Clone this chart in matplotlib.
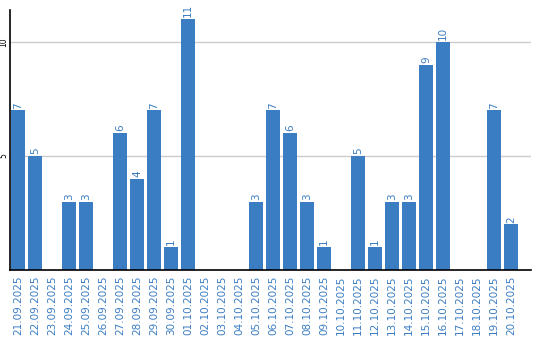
import matplotlib
matplotlib.use('Agg')
import matplotlib.pyplot as plt
import numpy as np

dates = ['21.09.2025', '22.09.2025', '23.09.2025', '24.09.2025', '25.09.2025',
         '26.09.2025', '27.09.2025', '28.09.2025', '29.09.2025', '30.09.2025',
         '01.10.2025', '02.10.2025', '03.10.2025', '04.10.2025', '05.10.2025',
         '06.10.2025', '07.10.2025', '08.10.2025', '09.10.2025', '10.10.2025',
         '11.10.2025', '12.10.2025', '13.10.2025', '14.10.2025', '15.10.2025',
         '16.10.2025', '17.10.2025', '18.10.2025', '19.10.2025', '20.10.2025']
counts = [7, 5, 0, 3, 3, 0, 6, 4, 7, 1, 11, 0, 0, 0, 3,
          7, 6, 3, 1, 0, 5, 1, 3, 3, 9, 10, 0, 0, 7, 2]

bar_color = '#3b7dc3'
text_color = '#3b7dc3'

fig = plt.figure(figsize=(5.4, 3.4), dpi=100)
ax = fig.add_axes([10 / 540, 70 / 340, 521 / 540, 260 / 340])

x = np.arange(len(dates))
ax.bar(x, counts, width=0.82, color=bar_color, zorder=2)

# value labels above non-zero bars
for xi, v in zip(x, counts):
    if v > 0:
        ax.text(xi, v + 0.08, str(v), rotation=90, ha='center', va='bottom',
                color=text_color, fontsize=7.5)

ax.set_xlim(-0.47, 30.18)
ax.set_ylim(0, 11.4)
ax.set_yticks([5, 10])
ax.set_yticklabels(['5', '10'], rotation=90, va='center', fontsize=5.5)
ax.tick_params(axis='y', length=0, pad=1)
ax.set_xticks(x)
ax.set_xticklabels(dates, rotation=90, color=text_color, fontsize=7.5)
ax.tick_params(axis='x', length=0, pad=4)

ax.grid(axis='y', color='#cccccc', linewidth=1, zorder=0)
ax.spines['top'].set_visible(False)
ax.spines['right'].set_visible(False)
ax.spines['left'].set_linewidth(1.2)
ax.spines['bottom'].set_linewidth(1.2)

plt.savefig('out.png', dpi=100)
